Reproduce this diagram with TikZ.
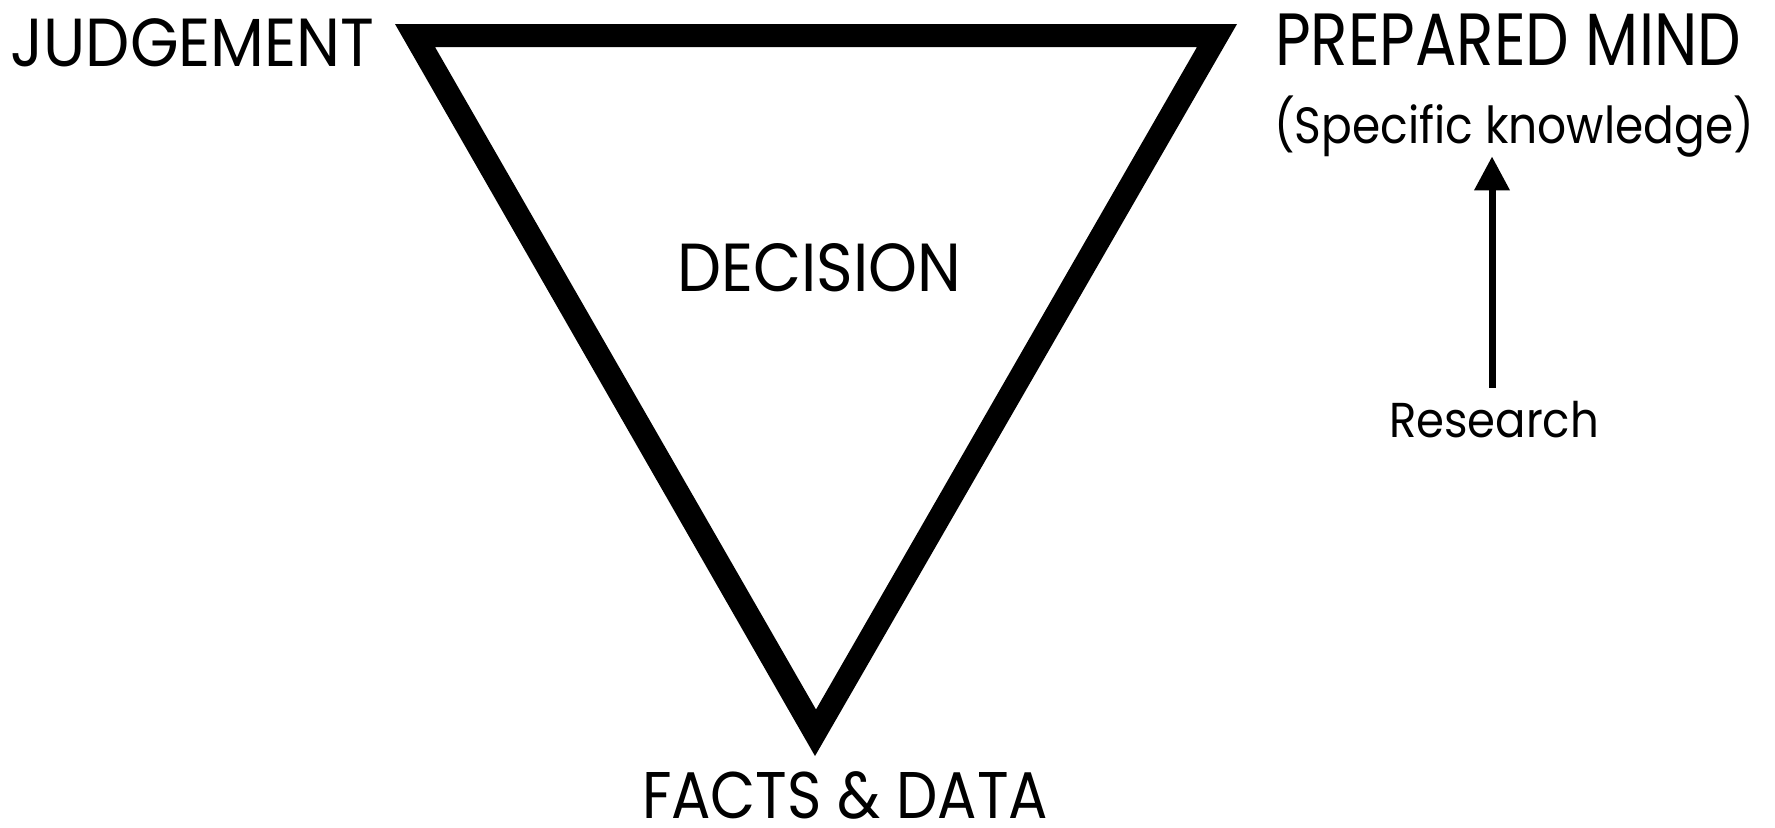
\documentclass[tikz,border=0pt]{standalone}
\usepackage{fontspec}
\setmainfont{Poppins}
\usetikzlibrary{arrows.meta}
\newsavebox\fitbox
\newcommand\fitw[2]{\sbox\fitbox{#2}\pgfmathsetmacro\fitr{#1/\the\wd\fitbox}\scalebox{\fitr}[1]{\usebox\fitbox}}
\tikzset{
  lbl/.style={inner sep=0pt, anchor=base, text=black},
  big/.style={lbl, font=\fontsize{34}{40}\selectfont},
  arr/.style={line width=3.5pt, -{Triangle[length=17pt,width=17pt]}}
}
\begin{document}
\begin{tikzpicture}[x=0.5pt,y=-0.5pt]
\useasboundingbox (0,0) rectangle (1775,827);
% triangle frame
\fill[black, even odd rule] (395,24) -- (1237,24) -- (815,756) -- cycle
  (435,47) -- (1197,47) -- (816,709.5) -- cycle;
\node[big] (judg) at (192.5,66) {\fitw{182pt}{JUDGEMENT}};
\node[lbl, font=\fontsize{37}{44}\selectfont] (prep) at (1508,65) {\fitw{233pt}{PREPARED MIND}};
\node[lbl, font=\fontsize{25.5}{32}\selectfont, text depth=6.5pt] (spec) at (1514,143) {\fitw{240pt}{(Specific knowledge)}};
\node[big] (dec) at (819.5,291) {\fitw{142pt}{DECISION}};
\node[lbl, font=\fontsize{33}{40}\selectfont, text depth=0pt] (facts) at (845,818) {\fitw{203pt}{FACTS \& DATA}};
\node[lbl, font=\fontsize{24.5}{30}\selectfont, text height=24.5pt] (res) at (1494,437) {\fitw{105pt}{Research}};
\draw[arr] (res.north -| 1492,0) -- (spec.south -| 1492,0);
\end{tikzpicture}
\end{document}
